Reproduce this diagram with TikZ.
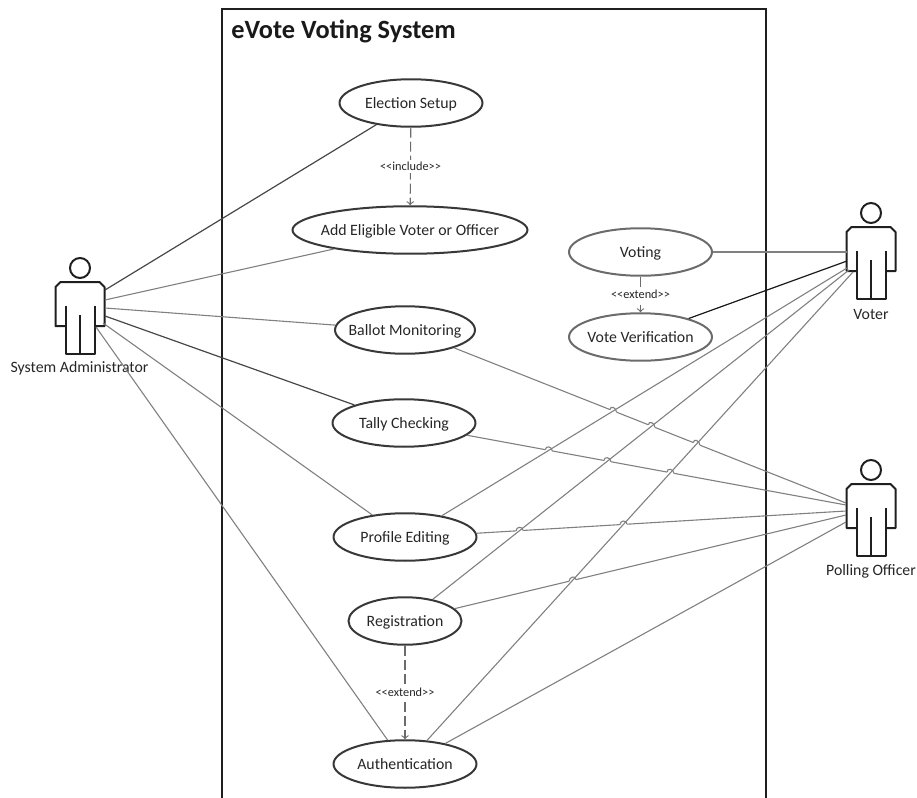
\documentclass[tikz,border=0pt]{standalone}
\usepackage{fontspec}
\setmainfont{Carlito}
\usetikzlibrary{shapes.geometric, intersections, calc}

\tikzset{
	usecase/.style = {ellipse, draw = black!78, line width = 0.04cm, inner sep = -0.4cm, minimum width = 2.86cm, minimum height = 0.95cm, font = \fontsize{9}{11}\selectfont, text = black!85, text height = 7pt, text depth = 0.4pt},
	softcase/.style = {usecase, draw = black!58},
	actorname/.style = {font = \fontsize{9}{11}\selectfont, text = black!85, text height = 7pt, text depth = 0.4pt, inner sep = 0pt},
	stereotype/.style = {fill = white, inner sep = 1pt, font = \fontsize{7}{8}\selectfont, text = black!85},
	assoc/.style = {draw = black!50, line width = 0.022cm},
	darkassoc/.style = {draw = black!72, line width = 0.024cm},
	dep/.style = {->, dashed, draw = black!58, line width = 0.022cm, dash pattern = on 0.2cm off 0.08cm},
	actor/.pic = {
		\draw[line width = 0.04cm, black!88] (0,0) circle (0.2cm);
		\draw[line width = 0.04cm, black!88, line join = round] (-14.5,38) -- (-14.5,86) -- (14.5,86) -- (14.5,38);
		\draw[line width = 0.04cm, black!88, line join = round] (-14.5,58) -- (-24.5,58) -- (-24.5,19) -- (-19.5,14) -- (19.5,14) -- (24.5,19) -- (24.5,58) -- (14.5,58);
		\draw[line width = 0.04cm, black!88] (0,47) -- (0,86);
	}
}

\begin{document}
\begin{tikzpicture}[x = 0.02cm, y = -0.02cm]
		\useasboundingbox (0,0) rectangle (917,798);

		% System boundary
		\draw[line width = 0.05cm, black!88] (222,798) -- (222,9) -- (766,9) -- (766,798);
		\node[anchor = west, inner sep = 0pt, font = \bfseries\fontsize{15}{18}\selectfont, text = black!90] (title) at (231,31) {eVote Voting System};

		% Use cases
		\node[usecase] (setup) at (411,103) {Election Setup};
		\node[usecase, minimum width = 4.7cm] (eligible) at (410,230) {Add Eligible Voter or Officer};
		\node[softcase] (voting) at (640.5,252) {Voting};
		\node[softcase] (verify) at (640.5,337) {Vote Verification};
		\node[usecase, minimum width = 2.8cm] (ballot) at (405,330) {Ballot Monitoring};
		\node[usecase] (tally) at (404,423) {Tally Checking};
		\node[usecase] (profile) at (405,537) {Profile Editing};
		\node[usecase, minimum width = 2.26cm] (register) at (405,621) {Registration};
		\node[usecase] (auth) at (405,764) {Authentication};

		% Actors
		\pic at (80,268) {actor};
		\pic at (871,213) {actor};
		\pic at (871,470) {actor};
		\node[actorname] (adminname) at (79.5,367) {System Administrator};
		\node[actorname] (votername) at (871,314) {Voter};
		\node[actorname] (officername) at (871,570) {Polling Officer};

		% Where the lines reach the actors
		\coordinate (admina) at (105,290);
		\coordinate (adminb) at (105,300);
		\coordinate (adminc) at (105,308);
		\coordinate (admind) at (105,316);
		\coordinate (admine) at (103,323);
		\coordinate (adminf) at (96,327);
		\coordinate (votera) at (847,252);
		\coordinate (voterb) at (847,261);
		\coordinate (voterc) at (847,268);
		\coordinate (voterd) at (849,270);
		\coordinate (votere) at (853,272);
		\coordinate (officera) at (846,503);
		\coordinate (officerb) at (846,505);
		\coordinate (officerc) at (846,511);
		\coordinate (officerd) at (846,515);
		\coordinate (officere) at (846,522);

		% System Administrator
		\draw[darkassoc] (admina) -- (setup.212.6);
		\draw[assoc] (adminb) -- (eligible.194);
		\draw[assoc] (adminc) -- (ballot.176);
		\draw[darkassoc] (admind) -- (tally.160.9);
		\draw[assoc] (admine) -- (profile.146.7);
		\draw[assoc] (adminf) -- (auth.126.9);

		% Polling Officer
		\draw[assoc, name path = ballotline] (ballot.-20.8) -- (officera);
		\draw[assoc, name path = tallyline] (tally.-11.1) -- (officerb);
		\draw[assoc, name path = profileline] (profile.3.2) -- (officerc);
		\draw[assoc, name path = registerline] (register.14) -- (officerd);
		\draw[assoc, name path = authline] (auth.27.7) -- (officere);

		% Voter
		\path[name path = profilevoter] (profile.30.3) -- (voterc);
		\path[name path = registervoter] (register.38.2) -- (voterd);
		\path[name path = authvoter] (auth.47.5) -- (votere);

		% Clear the line under each hop
		\foreach \lowpath/\toppath/\goal in {profilevoter/ballotline/officera, registervoter/ballotline/officera, authvoter/ballotline/officera, profilevoter/tallyline/officerb, registervoter/tallyline/officerb, authvoter/tallyline/officerb, registervoter/profileline/officerc, authvoter/profileline/officerc, authvoter/registerline/officerd}{
			\path[name intersections = {of/.expanded = \lowpath\space and \toppath, by = hopat}];
			\draw[white, line width = 0.05cm] ($(hopat)!0.07cm!(\goal)$) -- ($(hopat)!-0.07cm!(\goal)$);
		}

		\draw[assoc] (voting) -- (votera);
		\draw[black!90, line width = 0.024cm] (verify.21.8) -- (voterb);
		\draw[assoc] (profile.30.3) -- (voterc);
		\draw[assoc] (register.38.2) -- (voterd);
		\draw[assoc] (auth.47.5) -- (votere);

		% Draw the hops
		\foreach \lowpath/\toppath/\goal in {profilevoter/ballotline/officera, registervoter/ballotline/officera, authvoter/ballotline/officera, profilevoter/tallyline/officerb, registervoter/tallyline/officerb, authvoter/tallyline/officerb, registervoter/profileline/officerc, authvoter/profileline/officerc, authvoter/registerline/officerd}{
			\path[name intersections = {of/.expanded = \lowpath\space and \toppath, by = hopat}];
			\draw[assoc] ($(hopat)!-0.07cm!(\goal)$) .. controls +(0,-4.5) and +(0,-4.5) .. ($(hopat)!0.07cm!(\goal)$);
		}

		% Dependencies
		\draw[dep] (setup) -- (eligible) node[midway, stereotype] (includelabel) {{<}{<}include{>}{>}};
		\draw[dep] (voting) -- (verify) node[midway, stereotype] (extendlabela) {{<}{<}extend{>}{>}};
		\draw[dep] (register) -- (auth) node[midway, stereotype] (extendlabelb) {{<}{<}extend{>}{>}};
	\end{tikzpicture}
\end{document}
